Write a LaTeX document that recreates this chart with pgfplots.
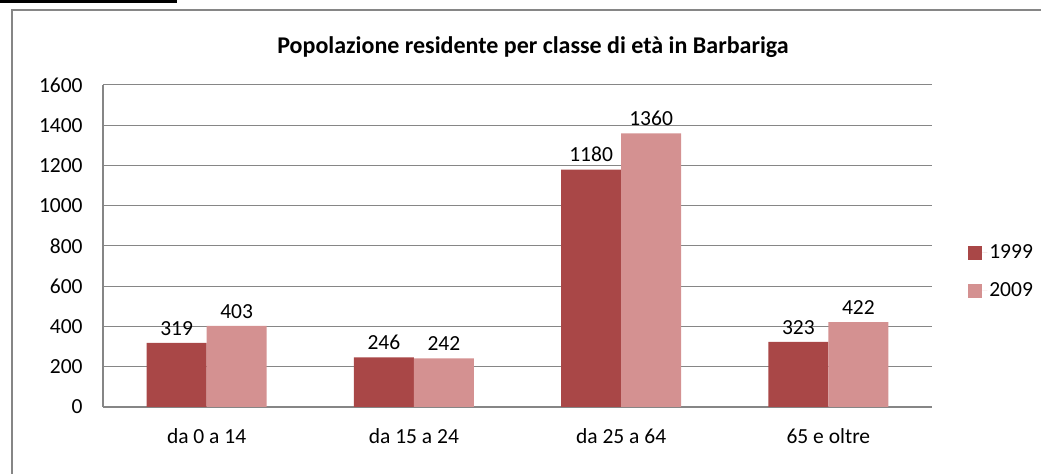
\documentclass[border=0pt]{standalone}
\usepackage{fontspec}
\setmainfont{Carlito}
\usepackage{pgfplots}
\pgfplotsset{compat=1.18}
\definecolor{bar1999}{RGB}{169,71,71}
\definecolor{bar2009}{RGB}{212,145,145}
\definecolor{gridgray}{RGB}{134,134,134}

\begin{document}
\fontsize{21.5bp}{25bp}\selectfont
\begin{tikzpicture}
\useasboundingbox (0bp,0bp) rectangle (1041bp,474bp);
% frame and black strip at the top
\fill[black] (0bp,471bp) rectangle (177bp,474bp);
\draw[gridgray, line width=1.2bp] (12bp,0bp) -- (12bp,464bp) -- (1041bp,464bp);
\node[font=\bfseries\fontsize{24bp}{28bp}\selectfont] at (533bp,427bp) {Popolazione residente per classe di età in Barbariga};
\begin{axis}[
    at={(103bp,67bp)}, anchor=south west,
    scale only axis,
    width=829bp, height=322bp,
    ybar=0pt, bar width=60bp,
    xmin=-0.5, xmax=3.5,
    ymin=0, ymax=1600,
    ytick={0,200,...,1600},
    xtick=data,
    xticklabels={da 0 a 14, da 15 a 24, da 25 a 64, 65 e oltre},
    axis lines=left,
    axis line style={-, gridgray, line width=1.2bp},
    ymajorgrids,
    grid style={gridgray, line width=1bp},
    major tick length=0pt,
    tick label style={font=\fontsize{21.5bp}{25bp}\selectfont},
    /pgf/number format/assume math mode=true,
    /pgf/number format/1000 sep={},
    yticklabel style={xshift=-13bp},
    xticklabel style={yshift=-14bp},
    nodes near coords,
    every node near coord/.append style={font=\fontsize{21.5bp}{25bp}\selectfont, /pgf/number format/1000 sep={}},
    legend style={at={(1.04,0.42)}, anchor=west, draw=none, fill=none,
        font=\fontsize{21.5bp}{25bp}\selectfont, row sep=17bp},
    legend image code/.code={\fill[#1] (0bp,-7bp) rectangle (14bp,7bp); \path (14bp,0bp) -- (19bp,0bp);},
]
\addplot[fill=bar1999, draw=none] coordinates {(0,319) (1,246) (2,1180) (3,323)};
\addplot[fill=bar2009, draw=none] coordinates {(0,403) (1,242) (2,1360) (3,422)};
\legend{1999, 2009}
\end{axis}
\end{tikzpicture}
\end{document}
